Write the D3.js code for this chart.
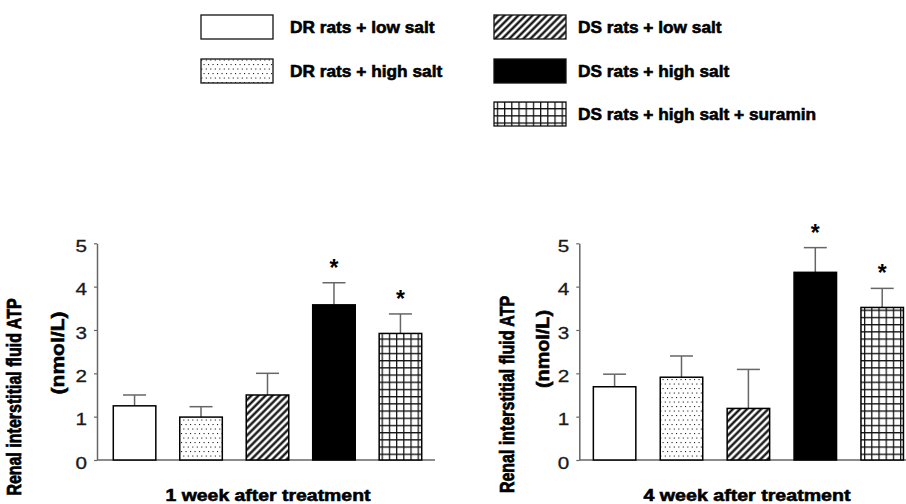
<!DOCTYPE html>
<html>
<head>
<meta charset="utf-8">
<script src="https://cdn.jsdelivr.net/npm/d3@7"></script>
<style>
  html, body { margin: 0; padding: 0; background: #fff; }
  svg { display: block; font-family: "Liberation Sans", Arial, Helvetica, sans-serif; }
  .heavy { stroke: #000; stroke-width: 0.6px; paint-order: stroke; }
  .tick text { stroke: #1a1a1a; stroke-width: 0.3px; }
</style>
</head>
<body>
<svg id="chart" width="906" height="504"></svg>
<script>
// Experimental groups (legend order = bar order)
const groups = [
  "DR rats + low salt",
  "DR rats + high salt",
  "DS rats + low salt",
  "DS rats + high salt",
  "DS rats + high salt + suramin"
];

// Renal interstitial fluid ATP, mean and SEM (nmol/L)
const week1Mean = [1.25, 0.99, 1.50, 3.58, 2.92];
const week1Sem  = [0.25, 0.24, 0.50, 0.51, 0.45];
const week4Mean = [1.69, 1.91, 1.19, 4.33, 3.52];
const week4Sem  = [0.29, 0.49, 0.90, 0.57, 0.44];

// * = significant vs. DR rats
const week1Sig = [false, false, false, true, true];
const week4Sig = [false, false, false, true, true];

const yTicks = [0, 1, 2, 3, 4, 5];
const panelTitles = ["1 week after treatment", "4 week after treatment"];
const yTitleLines = ["Renal interstitial fluid ATP", "(nmol/L)"];

const svg = d3.select("#chart");
const defs = svg.append("defs");

// Fill patterns
const dots = defs.append("pattern").attr("id", "dots")
  .attr("patternUnits", "userSpaceOnUse").attr("width", 9).attr("height", 9);
dots.append("rect").attr("width", 9).attr("height", 9).attr("fill", "#fff");
[[1, 1], [5.5, 1], [3.25, 5.5], [7.75, 5.5]].forEach(([x, y]) =>
  dots.append("rect").attr("x", x).attr("y", y).attr("width", 1.1).attr("height", 1.1).attr("fill", "#222"));

const diag = defs.append("pattern").attr("id", "diag")
  .attr("patternUnits", "userSpaceOnUse").attr("width", 5).attr("height", 10)
  .attr("patternTransform", "rotate(45)");
diag.append("rect").attr("width", 5).attr("height", 10).attr("fill", "#fff");
diag.append("line").attr("x1", 2.5).attr("x2", 2.5).attr("y1", 0).attr("y2", 10)
  .attr("stroke", "#000").attr("stroke-width", 2.2);

const grid = defs.append("pattern").attr("id", "grid")
  .attr("patternUnits", "userSpaceOnUse").attr("width", 7.2).attr("height", 7.2);
grid.append("rect").attr("width", 7.2).attr("height", 7.2).attr("fill", "#fff");
grid.append("path").attr("d", "M0.6,0V7.2M0,0.6H7.2")
  .attr("stroke", "#111").attr("stroke-width", 1.3).attr("fill", "none");

const fills = ["#fff", "url(#dots)", "url(#diag)", "#000", "url(#grid)"];
const axisColor = "#666";

// Legend: two columns
const legendSlots = [
  { x: 201, y: 15 }, { x: 201, y: 59 },
  { x: 494, y: 15 }, { x: 494, y: 59 }, { x: 494, y: 102 }
];
const legend = svg.append("g");
groups.forEach((g, i) => {
  const s = legendSlots[i];
  legend.append("rect")
    .attr("x", s.x).attr("y", s.y).attr("width", 72).attr("height", 24)
    .attr("fill", fills[i]).attr("stroke", "#111").attr("stroke-width", 1.3);
  legend.append("text").attr("class", "heavy")
    .attr("x", s.x + (i < 2 ? 89 : 84)).attr("y", s.y + 18.3)
    .style("font-size", "17.3px").style("font-weight", "bold").attr("fill", "#000")
    .text(g);
});

// Panels
const y = d3.scaleLinear().domain([0, 5]).range([460, 243.3]);

const panels = [
  { mean: week1Mean, sem: week1Sem, sig: week1Sig, title: panelTitles[0],
    axisX: 97, axisEnd: 435, bandRange: [98, 437], pInner: 0.36, pOuter: 0.23,
    titleX: 268, titleLen: 205,
    yl1: { x: 20.5, cy: 397 }, yl2: { x: 63.5, cy: 353, len: 83 } },
  { mean: week4Mean, sem: week4Sem, sig: week4Sig, title: panelTitles[1],
    axisX: 579.3, axisEnd: 906, bandRange: [579.3, 917.5], pInner: 0.365, pOuter: 0.21,
    titleX: 747, titleLen: 207,
    yl1: { x: 514, cy: 394.5 }, yl2: { x: 549, cy: 349, len: 78 } }
];

panels.forEach(p => {
  const g = svg.append("g");
  const x = d3.scaleBand().domain(groups).range(p.bandRange)
    .paddingInner(p.pInner).paddingOuter(p.pOuter);

  // y axis
  const ax = g.append("g").attr("transform", `translate(${p.axisX},0)`)
    .call(d3.axisLeft(y).tickValues(yTicks).tickSize(3).tickSizeOuter(0).tickPadding(7)
      .tickFormat(d3.format("d")));
  ax.select(".domain").attr("stroke", axisColor).attr("stroke-width", 1.5);
  ax.selectAll(".tick line").attr("stroke", axisColor).attr("stroke-width", 1.2);
  ax.selectAll(".tick text")
    .style("font-size", "16.5px")
    .style("font-family", "'Liberation Sans', Arial, sans-serif")
    .attr("textLength", 11.5).attr("lengthAdjust", "spacingAndGlyphs")
    .attr("fill", "#1a1a1a").attr("dy", "0.5em");

  // baseline
  g.append("line").attr("x1", p.axisX).attr("x2", p.axisEnd)
    .attr("y1", y(0)).attr("y2", y(0))
    .attr("stroke", axisColor).attr("stroke-width", 1.5);

  const bw = x.bandwidth();
  const cap = 23;

  // error bars (upper only)
  groups.forEach((gr, i) => {
    const cx = x(gr) + bw / 2;
    const top = y(p.mean[i] + p.sem[i]);
    g.append("line").attr("x1", cx).attr("x2", cx)
      .attr("y1", y(p.mean[i])).attr("y2", top)
      .attr("stroke", axisColor).attr("stroke-width", 1.5);
    g.append("line").attr("x1", cx - cap / 2).attr("x2", cx + cap / 2)
      .attr("y1", top).attr("y2", top)
      .attr("stroke", axisColor).attr("stroke-width", 1.5);
    if (p.sig[i]) {
      g.append("text").attr("x", cx).attr("y", top - 20 + 13)
        .attr("text-anchor", "middle").style("font-size", "23px").style("font-weight", "bold")
        .attr("fill", "#000").text("*");
    }
  });

  // bars
  g.selectAll("rect.bar").data(groups).join("rect").attr("class", "bar")
    .attr("x", d => x(d)).attr("width", bw)
    .attr("y", (d, i) => y(p.mean[i]))
    .attr("height", (d, i) => y(0) - y(p.mean[i]))
    .attr("fill", (d, i) => fills[i])
    .attr("stroke", "#000").attr("stroke-width", 1.5);

  // x title
  g.append("text").attr("class", "heavy").attr("x", p.titleX).attr("y", 500.5)
    .attr("text-anchor", "middle").style("font-size", "17px").style("font-weight", "bold")
    .attr("textLength", p.titleLen).attr("lengthAdjust", "spacingAndGlyphs")
    .attr("fill", "#000").text(p.title);

  // y title (two lines); first line has taller glyphs
  g.append("text").attr("class", "heavy")
    .attr("transform", `translate(${p.yl1.x},${p.yl1.cy}) rotate(-90) scale(1,1.22)`)
    .attr("text-anchor", "middle").style("font-size", "16px").style("font-weight", "bold")
    .attr("fill", "#000").text(yTitleLines[0]);
  g.append("text").attr("class", "heavy")
    .attr("transform", `translate(${p.yl2.x},${p.yl2.cy}) rotate(-90)`)
    .attr("text-anchor", "middle").style("font-size", "19px").style("font-weight", "bold")
    .attr("textLength", p.yl2.len).attr("lengthAdjust", "spacingAndGlyphs")
    .attr("fill", "#000").text(yTitleLines[1]);
});
</script>
</body>
</html>
